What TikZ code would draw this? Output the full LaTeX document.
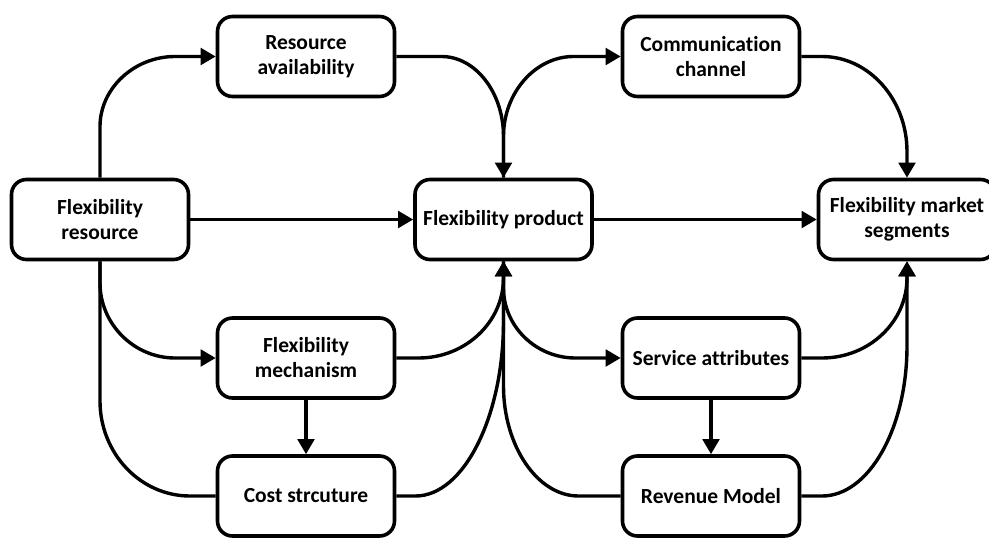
\documentclass[tikz,border=0pt]{standalone}
\usepackage{fontspec}
\setmainfont{Carlito}[Ligatures=NoCommon]
\usetikzlibrary{arrows.meta,calc}
\begin{document}
\begin{tikzpicture}[x=1pt,y=-1pt,
  box/.style={draw=black,line width=3.6pt,rounded corners=15pt,fill=white,
    minimum width=177pt,minimum height=80pt,inner sep=0pt,align=center,
    font=\fontsize{21.5}{25}\selectfont\bfseries},
  conn/.style={draw=black,line width=3.4pt},
  arr/.style={conn,-{Triangle[length=15pt,width=16.5pt]}}]
\useasboundingbox (0,0) rectangle (989,539);
\node[box] (FR) at (100,219.5) {Flexibility\\resource};
\node[box] (RA) at (306,56.5) {Resource\\availability};
\node[box] (FP) at (503.5,219.5) {Flexibility product};
\node[box] (CC) at (711,56.5) {Communication\\channel};
\node[box] (FMS) at (907,219.5) {Flexibility market\\segments};
\node[box] (FM) at (306,358) {Flexibility\\mechanism};
\node[box] (SA) at (711,358) {Service attributes};
\node[box] (CS) at (306,496) {Cost strcuture};
\node[box] (RM) at (711,496) {Revenue Model};
% corners of the curved connectors
\coordinate (k1) at (FR.north |- RA.west);
\coordinate (k2) at (FP.north |- RA.east);
\coordinate (k3) at (FP.north |- CC.west);
\coordinate (k4) at (FMS.north |- CC.east);
\coordinate (k7) at (FR.south |- FM.west);
\coordinate (k8) at (FR.south |- CS.west);
\coordinate (k9) at (FP.south |- FM.east);
\coordinate (k10) at (FP.south |- CS.east);
\coordinate (k11) at (FP.south |- SA.west);
\coordinate (k12) at (FP.south |- RM.west);
\coordinate (k15) at (FMS.south |- SA.east);
\coordinate (k16) at (FMS.south |- RM.east);
% top row
\draw[arr] (FR.north) -- ($(k1)+(0,70)$) .. controls +(0,-38) and +(-41,0) .. ($(k1)+(75,0)$) -- (RA.west);
\draw[arr] (RA.east) -- ($(k2)+(-62,0)$) .. controls +(34,0) and +(0,-44) .. ($(k2)+(0,80)$) -- (FP.north);
\draw[arr] (FP.north) -- ($(k3)+(0,80)$) .. controls +(0,-44) and +(-38,0) .. ($(k3)+(70,0)$) -- (CC.west);
\draw[arr] (CC.east) -- ($(k4)+(-85,0)$) .. controls +(47,0) and +(0,-52) .. ($(k4)+(0,95)$) -- (FMS.north);
% middle row
\draw[arr] (FR.east) -- (FP.west);
\draw[arr] (FP.east) -- (FMS.west);
% lower left
\draw[arr] (FR.south) -- ($(k7)+(0,-75)$) .. controls +(0,41) and +(-41,0) .. ($(k7)+(75,0)$) -- (FM.west);
\draw[conn] (FR.south) -- ($(k8)+(0,-95)$) .. controls +(0,52) and +(-50,0) .. ($(k8)+(90,0)$) -- (CS.west);
\draw[arr] (FM.south) -- (CS.north);
\draw[arr] (FM.east) -- ($(k9)+(-85,0)$) .. controls +(47,0) and +(0,44) .. ($(k9)+(0,-80)$) -- (FP.south);
\draw[arr] (CS.east) -- ($(k10)+(-88,0)$) .. controls +(48,0) and +(0,96) .. ($(k10)+(0,-175)$) -- (FP.south);
% lower right
\draw[arr] (FP.south) -- ($(k11)+(0,-70)$) .. controls +(0,38) and +(-40,0) .. ($(k11)+(72,0)$) -- (SA.west);
\draw[conn] (RM.west) -- ($(k12)+(75,0)$) .. controls +(-41,0) and +(0,60) .. ($(k12)+(0,-110)$) -- (FP.south);
\draw[arr] (SA.south) -- (RM.north);
\draw[arr] (SA.east) -- ($(k15)+(-85,0)$) .. controls +(47,0) and +(0,44) .. ($(k15)+(0,-80)$) -- (FMS.south);
\draw[arr] (RM.east) -- ($(k16)+(-85,0)$) .. controls +(47,0) and +(0,82) .. ($(k16)+(0,-150)$) -- (FMS.south);
\end{tikzpicture}
\end{document}
